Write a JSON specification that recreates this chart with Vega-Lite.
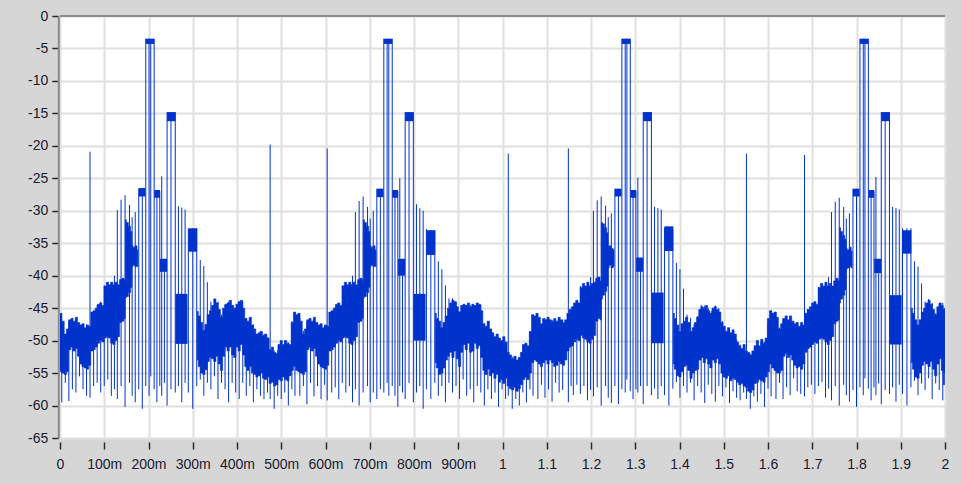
{
"$schema":"https://vega.github.io/schema/vega-lite/v6.json",
"width":885,"height":422,
"autosize":{"type":"none"},
"padding":{"left":60,"top":16,"right":17,"bottom":46},
"background":"#d6d6d6",
"resolve":{"axis":{"x":"independent","y":"independent"}},
"config":{"view":{"fill":"#ffffff","stroke":null},
"axis":{"labelFont":"Liberation Sans","labelFontSize":14,"labelColor":"#1a1a2e","gridColor":"#e0e0e0","gridWidth":2,"tickColor":"#2a2a2a","tickWidth":1.5,"labelFlush":false,"labelOverlap":false,"title":null}},
"datasets":{
"band":[
{"s":0,"t":0.000,"h":-45.9,"l":-54.6},{"s":0,"t":0.002,"h":-45.8,"l":-54.8},{"s":0,"t":0.007,"h":-47.0,"l":-55.0},{"s":0,"t":0.012,"h":-49.0,"l":-55.2},{"s":0,"t":0.017,"h":-48.2,"l":-54.8},{"s":0,"t":0.022,"h":-46.8,"l":-51.4},{"s":0,"t":0.027,"h":-46.6,"l":-51.0},{"s":0,"t":0.032,"h":-47.0,"l":-51.6},{"s":0,"t":0.037,"h":-46.4,"l":-51.2},{"s":0,"t":0.042,"h":-47.2,"l":-52.4},{"s":0,"t":0.047,"h":-47.6,"l":-53.6},{"s":0,"t":0.052,"h":-47.4,"l":-54.0},{"s":0,"t":0.057,"h":-48.0,"l":-54.2},{"s":0,"t":0.062,"h":-47.6,"l":-54.4},{"s":0,"t":0.067,"h":-47.8,"l":-53.8},{"s":0,"t":0.072,"h":-45.6,"l":-51.6},{"s":0,"t":0.077,"h":-45.4,"l":-51.4},{"s":0,"t":0.082,"h":-45.0,"l":-51.0},{"s":0,"t":0.087,"h":-44.4,"l":-50.4},{"s":0,"t":0.092,"h":-44.2,"l":-50.0},{"s":0,"t":0.097,"h":-44.6,"l":-50.2},{"s":0,"t":0.102,"h":-41.6,"l":-49.6},{"s":0,"t":0.107,"h":-41.0,"l":-49.4},{"s":0,"t":0.112,"h":-41.4,"l":-49.6},{"s":0,"t":0.117,"h":-41.0,"l":-50.4},{"s":0,"t":0.122,"h":-41.4,"l":-50.6},{"s":0,"t":0.127,"h":-41.0,"l":-50.0},{"s":0,"t":0.132,"h":-41.4,"l":-49.4},{"s":0,"t":0.137,"h":-40.6,"l":-47.2},{"s":0,"t":0.142,"h":-40.4,"l":-47.0},{"s":0,"t":0.147,"h":-40.6,"l":-46.6},{"s":0,"t":0.148,"h":-31.4,"l":-43.4},{"s":0,"t":0.152,"h":-31.8,"l":-43.2},{"s":0,"t":0.157,"h":-32.4,"l":-42.6},{"s":0,"t":0.162,"h":-33.2,"l":-41.8},{"s":0,"t":0.163,"h":-35.4,"l":-38.6},{"s":0,"t":0.167,"h":-35.6,"l":-38.4},{"s":0,"t":0.172,"h":-35.4,"l":-38.6},{"s":0,"t":0.176,"h":-36.0,"l":-38.6},
{"s":1,"t":0.310,"h":-45.5,"l":-53.0},{"s":1,"t":0.315,"h":-46.2,"l":-54.0},{"s":1,"t":0.320,"h":-47.2,"l":-55.0},{"s":1,"t":0.325,"h":-48.4,"l":-55.2},{"s":1,"t":0.330,"h":-47.5,"l":-54.5},{"s":1,"t":0.335,"h":-46.0,"l":-53.2},{"s":1,"t":0.340,"h":-45.4,"l":-52.6},{"s":1,"t":0.345,"h":-44.6,"l":-52.8},{"s":1,"t":0.350,"h":-43.6,"l":-53.2},{"s":1,"t":0.355,"h":-44.2,"l":-52.4},{"s":1,"t":0.360,"h":-45.2,"l":-53.6},{"s":1,"t":0.365,"h":-46.4,"l":-54.6},{"s":1,"t":0.370,"h":-45.0,"l":-52.4},{"s":1,"t":0.375,"h":-44.4,"l":-51.0},{"s":1,"t":0.380,"h":-44.2,"l":-51.6},{"s":1,"t":0.385,"h":-43.8,"l":-51.0},{"s":1,"t":0.390,"h":-44.6,"l":-52.2},{"s":1,"t":0.395,"h":-45.0,"l":-52.6},{"s":1,"t":0.400,"h":-44.4,"l":-51.0},{"s":1,"t":0.405,"h":-44.0,"l":-51.6},{"s":1,"t":0.410,"h":-43.8,"l":-50.6},{"s":1,"t":0.415,"h":-45.0,"l":-52.2},{"s":1,"t":0.420,"h":-46.6,"l":-54.0},{"s":1,"t":0.425,"h":-47.0,"l":-54.6},{"s":1,"t":0.430,"h":-46.4,"l":-54.0},{"s":1,"t":0.435,"h":-47.6,"l":-55.0},{"s":1,"t":0.440,"h":-48.2,"l":-55.2},{"s":1,"t":0.445,"h":-49.0,"l":-55.6},{"s":1,"t":0.450,"h":-48.8,"l":-55.4},{"s":1,"t":0.455,"h":-48.6,"l":-55.0},{"s":1,"t":0.460,"h":-49.2,"l":-55.8},{"s":1,"t":0.465,"h":-49.0,"l":-56.0},{"s":1,"t":0.470,"h":-49.6,"l":-55.6},{"s":1,"t":0.475,"h":-51.4,"l":-56.6},{"s":1,"t":0.480,"h":-51.0,"l":-56.4},{"s":1,"t":0.485,"h":-51.8,"l":-57.0},{"s":1,"t":0.490,"h":-52.0,"l":-56.8},{"s":1,"t":0.495,"h":-50.6,"l":-56.0},{"s":1,"t":0.500,"h":-50.0,"l":-56.2},{"s":1,"t":0.505,"h":-50.6,"l":-55.6},{"s":1,"t":0.510,"h":-50.0,"l":-56.0},{"s":1,"t":0.515,"h":-50.4,"l":-56.2},{"s":1,"t":0.520,"h":-50.6,"l":-55.4},{"s":1,"t":0.525,"h":-47.2,"l":-54.6},{"s":1,"t":0.530,"h":-45.6,"l":-54.0},{"s":1,"t":0.535,"h":-46.0,"l":-54.6},{"s":1,"t":0.540,"h":-45.8,"l":-54.8},{"s":1,"t":0.545,"h":-47.0,"l":-55.0},{"s":1,"t":0.550,"h":-49.0,"l":-55.2},{"s":1,"t":0.555,"h":-48.2,"l":-54.8},{"s":1,"t":0.560,"h":-46.8,"l":-51.4},{"s":1,"t":0.565,"h":-46.6,"l":-51.0},{"s":1,"t":0.570,"h":-47.0,"l":-51.6},{"s":1,"t":0.575,"h":-46.4,"l":-51.2},{"s":1,"t":0.580,"h":-47.2,"l":-52.4},{"s":1,"t":0.585,"h":-47.6,"l":-53.6},{"s":1,"t":0.590,"h":-47.4,"l":-54.0},{"s":1,"t":0.595,"h":-48.0,"l":-54.2},{"s":1,"t":0.600,"h":-47.6,"l":-54.4},{"s":1,"t":0.605,"h":-47.8,"l":-53.8},{"s":1,"t":0.610,"h":-45.6,"l":-51.6},{"s":1,"t":0.615,"h":-45.4,"l":-51.4},{"s":1,"t":0.620,"h":-45.0,"l":-51.0},{"s":1,"t":0.625,"h":-44.4,"l":-50.4},{"s":1,"t":0.630,"h":-44.2,"l":-50.0},{"s":1,"t":0.635,"h":-44.6,"l":-50.2},{"s":1,"t":0.640,"h":-41.6,"l":-49.6},{"s":1,"t":0.645,"h":-41.0,"l":-49.4},{"s":1,"t":0.650,"h":-41.4,"l":-49.6},{"s":1,"t":0.655,"h":-41.0,"l":-50.4},{"s":1,"t":0.660,"h":-41.4,"l":-50.6},{"s":1,"t":0.665,"h":-41.0,"l":-50.0},{"s":1,"t":0.670,"h":-41.4,"l":-49.4},{"s":1,"t":0.675,"h":-40.6,"l":-47.2},{"s":1,"t":0.680,"h":-40.4,"l":-47.0},{"s":1,"t":0.685,"h":-40.6,"l":-46.6},{"s":1,"t":0.686,"h":-31.4,"l":-43.4},{"s":1,"t":0.690,"h":-31.8,"l":-43.2},{"s":1,"t":0.695,"h":-32.4,"l":-42.6},{"s":1,"t":0.700,"h":-33.2,"l":-41.8},{"s":1,"t":0.701,"h":-35.4,"l":-38.6},{"s":1,"t":0.705,"h":-35.6,"l":-38.4},{"s":1,"t":0.710,"h":-35.4,"l":-38.6},{"s":1,"t":0.714,"h":-36.0,"l":-38.6},
{"s":2,"t":0.848,"h":-45.8,"l":-53.4},{"s":2,"t":0.853,"h":-46.6,"l":-54.2},{"s":2,"t":0.858,"h":-47.0,"l":-55.2},{"s":2,"t":0.863,"h":-48.0,"l":-55.0},{"s":2,"t":0.868,"h":-47.2,"l":-54.2},{"s":2,"t":0.873,"h":-46.2,"l":-53.0},{"s":2,"t":0.878,"h":-45.0,"l":-52.4},{"s":2,"t":0.883,"h":-44.2,"l":-51.8},{"s":2,"t":0.888,"h":-43.8,"l":-52.6},{"s":2,"t":0.893,"h":-44.0,"l":-51.6},{"s":2,"t":0.898,"h":-44.8,"l":-52.8},{"s":2,"t":0.903,"h":-45.6,"l":-54.0},{"s":2,"t":0.908,"h":-44.6,"l":-51.8},{"s":2,"t":0.913,"h":-44.4,"l":-50.6},{"s":2,"t":0.918,"h":-44.6,"l":-51.4},{"s":2,"t":0.923,"h":-44.2,"l":-50.4},{"s":2,"t":0.928,"h":-44.8,"l":-51.8},{"s":2,"t":0.933,"h":-44.4,"l":-51.6},{"s":2,"t":0.938,"h":-44.6,"l":-50.4},{"s":2,"t":0.943,"h":-44.2,"l":-51.2},{"s":2,"t":0.948,"h":-44.4,"l":-50.8},{"s":2,"t":0.953,"h":-45.4,"l":-52.6},{"s":2,"t":0.958,"h":-47.4,"l":-54.6},{"s":2,"t":0.963,"h":-47.8,"l":-55.2},{"s":2,"t":0.968,"h":-47.0,"l":-54.4},{"s":2,"t":0.973,"h":-48.2,"l":-55.4},{"s":2,"t":0.978,"h":-48.8,"l":-55.0},{"s":2,"t":0.983,"h":-49.4,"l":-55.8},{"s":2,"t":0.988,"h":-49.0,"l":-55.2},{"s":2,"t":0.993,"h":-49.6,"l":-56.4},{"s":2,"t":0.998,"h":-50.0,"l":-56.0},{"s":2,"t":1.003,"h":-49.4,"l":-56.6},{"s":2,"t":1.008,"h":-50.2,"l":-55.8},{"s":2,"t":1.013,"h":-51.8,"l":-57.0},{"s":2,"t":1.018,"h":-52.2,"l":-57.4},{"s":2,"t":1.023,"h":-52.8,"l":-57.6},{"s":2,"t":1.028,"h":-52.4,"l":-57.2},{"s":2,"t":1.033,"h":-53.0,"l":-57.8},{"s":2,"t":1.038,"h":-52.6,"l":-57.4},{"s":2,"t":1.043,"h":-51.8,"l":-56.8},{"s":2,"t":1.048,"h":-50.6,"l":-56.0},{"s":2,"t":1.053,"h":-50.4,"l":-55.6},{"s":2,"t":1.058,"h":-50.8,"l":-56.0},{"s":2,"t":1.063,"h":-48.6,"l":-55.0},{"s":2,"t":1.068,"h":-46.0,"l":-53.4},{"s":2,"t":1.073,"h":-46.2,"l":-53.0},{"s":2,"t":1.078,"h":-45.8,"l":-53.2},{"s":2,"t":1.083,"h":-46.4,"l":-53.6},{"s":2,"t":1.088,"h":-47.4,"l":-54.0},{"s":2,"t":1.093,"h":-46.6,"l":-53.4},{"s":2,"t":1.098,"h":-46.8,"l":-53.0},{"s":2,"t":1.103,"h":-46.4,"l":-53.6},{"s":2,"t":1.108,"h":-46.8,"l":-53.0},{"s":2,"t":1.113,"h":-47.0,"l":-53.4},{"s":2,"t":1.118,"h":-46.6,"l":-54.0},{"s":2,"t":1.123,"h":-47.0,"l":-53.8},{"s":2,"t":1.128,"h":-46.4,"l":-53.2},{"s":2,"t":1.133,"h":-46.8,"l":-53.6},{"s":2,"t":1.138,"h":-47.2,"l":-53.8},{"s":2,"t":1.143,"h":-46.8,"l":-53.0},{"s":2,"t":1.148,"h":-45.8,"l":-51.6},{"s":2,"t":1.153,"h":-45.2,"l":-51.0},{"s":2,"t":1.158,"h":-44.8,"l":-50.8},{"s":2,"t":1.163,"h":-44.2,"l":-50.2},{"s":2,"t":1.168,"h":-43.8,"l":-49.8},{"s":2,"t":1.173,"h":-44.2,"l":-50.0},{"s":2,"t":1.178,"h":-41.8,"l":-49.2},{"s":2,"t":1.183,"h":-41.2,"l":-49.6},{"s":2,"t":1.188,"h":-41.6,"l":-49.8},{"s":2,"t":1.193,"h":-41.0,"l":-50.2},{"s":2,"t":1.198,"h":-41.6,"l":-50.4},{"s":2,"t":1.203,"h":-41.2,"l":-49.8},{"s":2,"t":1.208,"h":-41.0,"l":-49.2},{"s":2,"t":1.213,"h":-40.4,"l":-47.0},{"s":2,"t":1.218,"h":-40.2,"l":-46.6},{"s":2,"t":1.223,"h":-40.8,"l":-46.8},{"s":2,"t":1.224,"h":-31.8,"l":-43.6},{"s":2,"t":1.228,"h":-32.0,"l":-43.0},{"s":2,"t":1.233,"h":-32.6,"l":-42.4},{"s":2,"t":1.238,"h":-33.4,"l":-41.6},{"s":2,"t":1.239,"h":-35.6,"l":-38.8},{"s":2,"t":1.243,"h":-35.4,"l":-38.4},{"s":2,"t":1.248,"h":-35.8,"l":-38.8},{"s":2,"t":1.252,"h":-36.0,"l":-38.6},
{"s":3,"t":1.386,"h":-45.8,"l":-53.6},{"s":3,"t":1.391,"h":-46.6,"l":-54.4},{"s":3,"t":1.396,"h":-47.6,"l":-55.4},{"s":3,"t":1.401,"h":-48.6,"l":-55.6},{"s":3,"t":1.406,"h":-47.4,"l":-54.8},{"s":3,"t":1.411,"h":-47.0,"l":-54.0},{"s":3,"t":1.416,"h":-46.4,"l":-53.8},{"s":3,"t":1.421,"h":-47.2,"l":-54.6},{"s":3,"t":1.426,"h":-48.6,"l":-55.8},{"s":3,"t":1.431,"h":-48.0,"l":-55.0},{"s":3,"t":1.436,"h":-47.2,"l":-54.6},{"s":3,"t":1.441,"h":-46.4,"l":-54.4},{"s":3,"t":1.446,"h":-45.2,"l":-53.0},{"s":3,"t":1.451,"h":-44.8,"l":-52.6},{"s":3,"t":1.456,"h":-45.0,"l":-53.4},{"s":3,"t":1.461,"h":-44.6,"l":-52.8},{"s":3,"t":1.466,"h":-45.4,"l":-53.6},{"s":3,"t":1.471,"h":-45.8,"l":-54.2},{"s":3,"t":1.476,"h":-45.0,"l":-53.0},{"s":3,"t":1.481,"h":-44.8,"l":-53.4},{"s":3,"t":1.486,"h":-45.2,"l":-52.8},{"s":3,"t":1.491,"h":-45.6,"l":-53.6},{"s":3,"t":1.496,"h":-47.2,"l":-55.0},{"s":3,"t":1.501,"h":-47.8,"l":-55.6},{"s":3,"t":1.506,"h":-48.6,"l":-55.8},{"s":3,"t":1.511,"h":-48.0,"l":-55.4},{"s":3,"t":1.516,"h":-48.8,"l":-56.2},{"s":3,"t":1.521,"h":-48.4,"l":-55.8},{"s":3,"t":1.526,"h":-49.0,"l":-56.0},{"s":3,"t":1.531,"h":-50.2,"l":-56.4},{"s":3,"t":1.536,"h":-50.8,"l":-56.8},{"s":3,"t":1.541,"h":-51.2,"l":-56.6},{"s":3,"t":1.546,"h":-50.6,"l":-57.0},{"s":3,"t":1.551,"h":-51.6,"l":-57.2},{"s":3,"t":1.556,"h":-51.8,"l":-57.8},{"s":3,"t":1.561,"h":-52.2,"l":-58.0},{"s":3,"t":1.566,"h":-51.6,"l":-57.6},{"s":3,"t":1.571,"h":-50.8,"l":-56.6},{"s":3,"t":1.576,"h":-50.0,"l":-56.4},{"s":3,"t":1.581,"h":-50.8,"l":-56.0},{"s":3,"t":1.586,"h":-49.8,"l":-56.2},{"s":3,"t":1.591,"h":-50.4,"l":-56.4},{"s":3,"t":1.596,"h":-49.6,"l":-55.6},{"s":3,"t":1.601,"h":-46.6,"l":-54.8},{"s":3,"t":1.606,"h":-45.4,"l":-53.6},{"s":3,"t":1.611,"h":-45.8,"l":-54.2},{"s":3,"t":1.616,"h":-45.6,"l":-54.6},{"s":3,"t":1.621,"h":-46.4,"l":-55.0},{"s":3,"t":1.626,"h":-48.2,"l":-55.0},{"s":3,"t":1.631,"h":-47.4,"l":-54.6},{"s":3,"t":1.636,"h":-46.6,"l":-52.4},{"s":3,"t":1.641,"h":-46.2,"l":-52.0},{"s":3,"t":1.646,"h":-46.8,"l":-52.6},{"s":3,"t":1.651,"h":-46.2,"l":-52.2},{"s":3,"t":1.656,"h":-47.0,"l":-53.0},{"s":3,"t":1.661,"h":-47.4,"l":-53.8},{"s":3,"t":1.666,"h":-47.2,"l":-54.2},{"s":3,"t":1.671,"h":-47.8,"l":-54.0},{"s":3,"t":1.676,"h":-47.2,"l":-54.4},{"s":3,"t":1.681,"h":-47.6,"l":-53.6},{"s":3,"t":1.686,"h":-45.8,"l":-51.8},{"s":3,"t":1.691,"h":-45.2,"l":-51.2},{"s":3,"t":1.696,"h":-44.8,"l":-51.0},{"s":3,"t":1.701,"h":-44.2,"l":-50.6},{"s":3,"t":1.706,"h":-44.0,"l":-50.2},{"s":3,"t":1.711,"h":-44.4,"l":-50.4},{"s":3,"t":1.716,"h":-41.8,"l":-49.8},{"s":3,"t":1.721,"h":-41.2,"l":-49.6},{"s":3,"t":1.726,"h":-41.6,"l":-49.8},{"s":3,"t":1.731,"h":-41.0,"l":-50.2},{"s":3,"t":1.736,"h":-41.6,"l":-50.6},{"s":3,"t":1.741,"h":-41.2,"l":-50.0},{"s":3,"t":1.746,"h":-41.6,"l":-49.4},{"s":3,"t":1.751,"h":-40.8,"l":-47.4},{"s":3,"t":1.756,"h":-40.4,"l":-47.0},{"s":3,"t":1.761,"h":-40.8,"l":-46.8},{"s":3,"t":1.762,"h":-32.6,"l":-44.2},{"s":3,"t":1.766,"h":-33.2,"l":-43.6},{"s":3,"t":1.771,"h":-33.8,"l":-43.0},{"s":3,"t":1.776,"h":-34.4,"l":-42.2},{"s":3,"t":1.777,"h":-35.8,"l":-39.0},{"s":3,"t":1.781,"h":-36.0,"l":-38.8},{"s":3,"t":1.786,"h":-35.6,"l":-38.6},{"s":3,"t":1.790,"h":-36.2,"l":-38.8},
{"s":4,"t":1.924,"h":-45.0,"l":-53.4},{"s":4,"t":1.929,"h":-45.8,"l":-54.4},{"s":4,"t":1.934,"h":-46.8,"l":-55.6},{"s":4,"t":1.939,"h":-47.6,"l":-55.8},{"s":4,"t":1.944,"h":-46.8,"l":-55.0},{"s":4,"t":1.949,"h":-45.6,"l":-53.8},{"s":4,"t":1.954,"h":-45.0,"l":-53.2},{"s":4,"t":1.959,"h":-44.2,"l":-53.6},{"s":4,"t":1.964,"h":-43.8,"l":-54.0},{"s":4,"t":1.969,"h":-44.4,"l":-53.2},{"s":4,"t":1.974,"h":-45.2,"l":-54.4},{"s":4,"t":1.979,"h":-46.0,"l":-55.4},{"s":4,"t":1.984,"h":-44.8,"l":-53.6},{"s":4,"t":1.989,"h":-44.2,"l":-52.8},{"s":4,"t":1.994,"h":-44.6,"l":-54.6},{"s":4,"t":1.998,"h":-45.2,"l":-56.8},{"s":4,"t":2.000,"h":-45.0,"l":-55.0}
],
"blocks":[
{"a":0.178,"b":0.193,"h":-26.5,"l":-27.8},{"a":0.1938,"b":0.2128,"h":-3.5,"l":-4.3},{"a":0.213,"b":0.226,"h":-26.8,"l":-28.0},{"a":0.226,"b":0.242,"h":-37.4,"l":-39.4},{"a":0.242,"b":0.261,"h":-14.8,"l":-16.2},{"a":0.261,"b":0.288,"h":-42.8,"l":-50.5},{"a":0.290,"b":0.310,"h":-32.7,"l":-36.3},
{"a":0.716,"b":0.731,"h":-26.6,"l":-27.9},{"a":0.7318,"b":0.7508,"h":-3.5,"l":-4.3},{"a":0.751,"b":0.764,"h":-26.8,"l":-28.0},{"a":0.764,"b":0.780,"h":-37.4,"l":-40.0},{"a":0.780,"b":0.799,"h":-14.8,"l":-16.2},{"a":0.799,"b":0.826,"h":-42.8,"l":-50.0},{"a":0.828,"b":0.848,"h":-33.0,"l":-36.8},
{"a":1.254,"b":1.269,"h":-26.6,"l":-27.8},{"a":1.2698,"b":1.2888,"h":-3.5,"l":-4.3},{"a":1.289,"b":1.302,"h":-26.8,"l":-28.0},{"a":1.302,"b":1.318,"h":-37.2,"l":-39.4},{"a":1.318,"b":1.337,"h":-14.8,"l":-16.2},{"a":1.337,"b":1.364,"h":-42.6,"l":-50.4},{"a":1.366,"b":1.386,"h":-32.4,"l":-36.2},
{"a":1.792,"b":1.807,"h":-26.6,"l":-27.8},{"a":1.8078,"b":1.8268,"h":-3.5,"l":-4.3},{"a":1.827,"b":1.840,"h":-26.8,"l":-28.0},{"a":1.840,"b":1.856,"h":-37.4,"l":-39.6},{"a":1.856,"b":1.875,"h":-14.8,"l":-16.2},{"a":1.875,"b":1.902,"h":-43.0,"l":-50.6},{"a":1.904,"b":1.924,"h":-33.0,"l":-36.6}
],
"spikes":[
{"t":0.004,"h":-47,"l":-59.5},{"t":0.012,"h":-49,"l":-56.5},{"t":0.020,"h":-47,"l":-59.3},{"t":0.028,"h":-46.5,"l":-57.5},{"t":0.036,"h":-46.5,"l":-58},{"t":0.044,"h":-47.5,"l":-55.5},{"t":0.052,"h":-47.5,"l":-57.5},{"t":0.060,"h":-47.5,"l":-58.5},{"t":0.0678,"h":-20.9,"l":-58.8},{"t":0.076,"h":-45.5,"l":-57},{"t":0.084,"h":-44.5,"l":-56.5},{"t":0.092,"h":-44,"l":-58},{"t":0.100,"h":-41.5,"l":-57},{"t":0.108,"h":-41,"l":-56},{"t":0.116,"h":-41,"l":-58.5},{"t":0.123,"h":-40,"l":-57.5},{"t":0.1295,"h":-29.9,"l":-59},{"t":0.138,"h":-28.3,"l":-57},{"t":0.147,"h":-27.6,"l":-60.2},{"t":0.157,"h":-29.1,"l":-56.5},{"t":0.163,"h":-31,"l":-58.5},{"t":0.170,"h":-30.2,"l":-59.5},{"t":0.178,"h":-26.6,"l":-57.5},{"t":0.186,"h":-26.6,"l":-60.5},{"t":0.1938,"h":-3.5,"l":-57},{"t":0.2013,"h":-3.5,"l":-58.5},{"t":0.2051,"h":-3.5,"l":-55.5},{"t":0.2128,"h":-3.5,"l":-57.5},{"t":0.219,"h":-27,"l":-59.5},{"t":0.2255,"h":-27,"l":-57},{"t":0.2299,"h":-24.7,"l":-58.5},{"t":0.236,"h":-37.4,"l":-56.5},{"t":0.242,"h":-14.8,"l":-60},{"t":0.2508,"h":-14.8,"l":-57.5},{"t":0.2605,"h":-14.8,"l":-58},{"t":0.2676,"h":-29.3,"l":-57},{"t":0.2752,"h":-29.5,"l":-59.5},{"t":0.2827,"h":-29.8,"l":-56.5},{"t":0.290,"h":-32.7,"l":-58},{"t":0.300,"h":-32.7,"l":-60.5},{"t":0.309,"h":-32.7,"l":-57},{"t":0.317,"h":-37.6,"l":-56},{"t":0.325,"h":-38.5,"l":-58.5},{"t":0.333,"h":-41,"l":-56.5},{"t":0.341,"h":-44,"l":-57.5},{"t":0.349,"h":-43.5,"l":-55.5},{"t":0.357,"h":-44,"l":-59},{"t":0.365,"h":-46,"l":-56.5},{"t":0.373,"h":-44.5,"l":-57.5},{"t":0.381,"h":-44,"l":-59.5},{"t":0.389,"h":-44.5,"l":-56.5},{"t":0.397,"h":-45,"l":-58},{"t":0.405,"h":-44,"l":-59},{"t":0.413,"h":-44,"l":-56.5},{"t":0.421,"h":-46.5,"l":-58.5},{"t":0.429,"h":-46.5,"l":-57},{"t":0.437,"h":-47.5,"l":-59.5},{"t":0.445,"h":-49,"l":-57.5},{"t":0.453,"h":-48.5,"l":-58.5},{"t":0.461,"h":-49,"l":-59},{"t":0.469,"h":-49.5,"l":-58},{"t":0.4749,"h":-19.8,"l":-59},{"t":0.484,"h":-51.5,"l":-60.5},{"t":0.492,"h":-51.5,"l":-58.5},{"t":0.500,"h":-50,"l":-59},{"t":0.508,"h":-50,"l":-58},{"t":0.516,"h":-50.3,"l":-60},{"t":0.524,"h":-47,"l":-57.5},{"t":0.531,"h":-45.6,"l":-58.5},
{"t":0.542,"h":-46.5,"l":-58.5},{"t":0.550,"h":-48.5,"l":-57.0},{"t":0.558,"h":-47,"l":-59.8},{"t":0.566,"h":-46.5,"l":-56.5},{"t":0.574,"h":-46.8,"l":-58.6},{"t":0.582,"h":-47.2,"l":-57.0},{"t":0.590,"h":-47.5,"l":-59.0},{"t":0.598,"h":-47.6,"l":-56.8},{"t":0.6038,"h":-20.4,"l":-59.2},{"t":0.614,"h":-45.5,"l":-58.0},{"t":0.622,"h":-44.8,"l":-57.2},{"t":0.630,"h":-44.2,"l":-59.0},{"t":0.638,"h":-41.5,"l":-56.5},{"t":0.646,"h":-41,"l":-58.0},{"t":0.654,"h":-41,"l":-57.0},{"t":0.661,"h":-40,"l":-59.5},{"t":0.6675,"h":-30.2,"l":-57.5},{"t":0.676,"h":-28.5,"l":-60.0},{"t":0.685,"h":-27.8,"l":-58.0},{"t":0.695,"h":-29.4,"l":-57.0},{"t":0.701,"h":-31.2,"l":-59.5},{"t":0.708,"h":-30.0,"l":-58.0},{"t":0.716,"h":-26.6,"l":-59.0},{"t":0.724,"h":-26.6,"l":-57.5},{"t":0.7318,"h":-3.5,"l":-58.0},{"t":0.7393,"h":-3.5,"l":-56.5},{"t":0.7431,"h":-3.5,"l":-58.5},{"t":0.7508,"h":-3.5,"l":-57.0},{"t":0.757,"h":-27,"l":-58.5},{"t":0.7635,"h":-27,"l":-60.2},{"t":0.7679,"h":-25.0,"l":-57.0},{"t":0.774,"h":-37.4,"l":-58.0},{"t":0.780,"h":-14.8,"l":-59.0},{"t":0.7888,"h":-14.8,"l":-56.5},{"t":0.7985,"h":-14.8,"l":-59.5},{"t":0.8056,"h":-29.0,"l":-58.0},{"t":0.8132,"h":-29.6,"l":-57.0},{"t":0.8207,"h":-30.0,"l":-60.5},{"t":0.828,"h":-32.8,"l":-57.5},{"t":0.838,"h":-33.0,"l":-59.0},{"t":0.847,"h":-33.0,"l":-56.5},{"t":0.855,"h":-37.8,"l":-58.5},{"t":0.863,"h":-39.0,"l":-57.0},{"t":0.871,"h":-41.5,"l":-59.5},{"t":0.879,"h":-43.5,"l":-56.5},{"t":0.887,"h":-43.5,"l":-58.0},{"t":0.895,"h":-44,"l":-57.0},{"t":0.903,"h":-45.5,"l":-59.0},{"t":0.911,"h":-44.5,"l":-56.0},{"t":0.919,"h":-44.5,"l":-58.5},{"t":0.927,"h":-44.5,"l":-57.5},{"t":0.935,"h":-44.6,"l":-59.5},{"t":0.943,"h":-44.2,"l":-57.0},{"t":0.951,"h":-44.5,"l":-58.0},{"t":0.959,"h":-47.4,"l":-60.0},{"t":0.967,"h":-47,"l":-57.5},{"t":0.975,"h":-48.2,"l":-59.0},{"t":0.983,"h":-49.4,"l":-58.0},{"t":0.991,"h":-49.5,"l":-60.2},{"t":0.999,"h":-50,"l":-57.5},{"t":1.007,"h":-50.2,"l":-59.0},{"t":1.0131,"h":-21.2,"l":-58.5},{"t":1.022,"h":-52.5,"l":-60.5},{"t":1.030,"h":-52.5,"l":-59.0},{"t":1.038,"h":-52.6,"l":-60.0},{"t":1.046,"h":-50.6,"l":-58.0},{"t":1.054,"h":-50.4,"l":-59.5},{"t":1.062,"h":-48.6,"l":-57.5},{"t":1.069,"h":-46,"l":-58.5},
{"t":1.080,"h":-47.0,"l":-59.0},{"t":1.088,"h":-48.5,"l":-56.8},{"t":1.096,"h":-46.6,"l":-58.8},{"t":1.104,"h":-46.5,"l":-57.5},{"t":1.112,"h":-46.8,"l":-59.4},{"t":1.120,"h":-47.0,"l":-56.5},{"t":1.128,"h":-46.6,"l":-58.0},{"t":1.136,"h":-46.8,"l":-57.6},{"t":1.1488,"h":-20.4,"l":-59.5},{"t":1.155,"h":-45.2,"l":-57.0},{"t":1.160,"h":-44.8,"l":-58.4},{"t":1.168,"h":-44.0,"l":-56.8},{"t":1.176,"h":-41.6,"l":-58.2},{"t":1.184,"h":-41.2,"l":-57.0},{"t":1.192,"h":-41,"l":-59.2},{"t":1.199,"h":-40.2,"l":-57.6},{"t":1.2055,"h":-30.0,"l":-58.6},{"t":1.214,"h":-28.4,"l":-57.2},{"t":1.223,"h":-27.8,"l":-60.0},{"t":1.233,"h":-29.2,"l":-57.0},{"t":1.239,"h":-31.0,"l":-58.8},{"t":1.246,"h":-30.4,"l":-59.6},{"t":1.254,"h":-26.6,"l":-57.0},{"t":1.262,"h":-26.6,"l":-59.8},{"t":1.2698,"h":-3.5,"l":-57.5},{"t":1.2773,"h":-3.5,"l":-58.0},{"t":1.2811,"h":-3.5,"l":-56.0},{"t":1.2888,"h":-3.5,"l":-57.8},{"t":1.295,"h":-27,"l":-59.0},{"t":1.3015,"h":-27,"l":-57.5},{"t":1.3059,"h":-24.9,"l":-58.0},{"t":1.312,"h":-37.4,"l":-57.0},{"t":1.318,"h":-14.8,"l":-59.8},{"t":1.3268,"h":-14.8,"l":-57.0},{"t":1.3365,"h":-14.8,"l":-58.4},{"t":1.3436,"h":-29.4,"l":-57.4},{"t":1.3512,"h":-29.6,"l":-59.0},{"t":1.3587,"h":-29.8,"l":-57.0},{"t":1.366,"h":-32.6,"l":-58.4},{"t":1.376,"h":-32.8,"l":-60.0},{"t":1.385,"h":-32.8,"l":-57.4},{"t":1.393,"h":-38.0,"l":-56.4},{"t":1.401,"h":-39.0,"l":-58.8},{"t":1.409,"h":-42.0,"l":-57.0},{"t":1.417,"h":-46.0,"l":-58.0},{"t":1.425,"h":-46.5,"l":-56.5},{"t":1.433,"h":-47.5,"l":-59.2},{"t":1.441,"h":-46.2,"l":-57.0},{"t":1.449,"h":-44.5,"l":-58.0},{"t":1.457,"h":-44.6,"l":-59.6},{"t":1.465,"h":-45.0,"l":-56.8},{"t":1.473,"h":-45.4,"l":-58.2},{"t":1.481,"h":-44.6,"l":-59.4},{"t":1.489,"h":-45.0,"l":-57.0},{"t":1.497,"h":-47.0,"l":-58.6},{"t":1.505,"h":-48.4,"l":-57.2},{"t":1.513,"h":-48.2,"l":-59.6},{"t":1.521,"h":-48.2,"l":-57.8},{"t":1.529,"h":-49.8,"l":-58.8},{"t":1.537,"h":-50.6,"l":-59.2},{"t":1.545,"h":-50.8,"l":-58.0},{"t":1.5513,"h":-21.2,"l":-59.0},{"t":1.560,"h":-52.0,"l":-60.5},{"t":1.568,"h":-51.6,"l":-58.6},{"t":1.576,"h":-50.0,"l":-59.4},{"t":1.584,"h":-50.2,"l":-58.2},{"t":1.592,"h":-50.2,"l":-60.2},{"t":1.600,"h":-47.6,"l":-57.4},{"t":1.607,"h":-45.4,"l":-58.6},
{"t":1.618,"h":-45.6,"l":-59.0},{"t":1.626,"h":-48.0,"l":-56.5},{"t":1.634,"h":-46.6,"l":-59.0},{"t":1.642,"h":-46.2,"l":-57.2},{"t":1.650,"h":-46.2,"l":-58.4},{"t":1.658,"h":-47.0,"l":-55.8},{"t":1.666,"h":-47.2,"l":-57.8},{"t":1.674,"h":-47.6,"l":-58.2},{"t":1.6825,"h":-21.4,"l":-58.6},{"t":1.690,"h":-45.2,"l":-57.2},{"t":1.698,"h":-44.8,"l":-56.8},{"t":1.706,"h":-44.0,"l":-58.2},{"t":1.714,"h":-41.8,"l":-57.0},{"t":1.722,"h":-41.2,"l":-56.4},{"t":1.730,"h":-41.0,"l":-58.8},{"t":1.737,"h":-40.2,"l":-57.4},{"t":1.7435,"h":-30.2,"l":-59.2},{"t":1.752,"h":-28.6,"l":-57.0},{"t":1.761,"h":-28.0,"l":-60.0},{"t":1.771,"h":-29.4,"l":-56.8},{"t":1.777,"h":-31.2,"l":-58.4},{"t":1.784,"h":-30.4,"l":-59.4},{"t":1.792,"h":-26.6,"l":-57.6},{"t":1.800,"h":-26.6,"l":-60.2},{"t":1.8078,"h":-3.5,"l":-57.2},{"t":1.8153,"h":-3.5,"l":-58.4},{"t":1.8191,"h":-3.5,"l":-55.8},{"t":1.8268,"h":-3.5,"l":-57.4},{"t":1.833,"h":-27,"l":-59.2},{"t":1.8395,"h":-27,"l":-57.2},{"t":1.8439,"h":-24.8,"l":-58.4},{"t":1.850,"h":-37.4,"l":-56.6},{"t":1.856,"h":-14.8,"l":-59.8},{"t":1.8648,"h":-14.8,"l":-57.6},{"t":1.8745,"h":-14.8,"l":-58.2},{"t":1.8816,"h":-29.4,"l":-57.2},{"t":1.8892,"h":-29.6,"l":-59.4},{"t":1.8967,"h":-29.8,"l":-56.8},{"t":1.904,"h":-32.7,"l":-58.2},{"t":1.914,"h":-32.7,"l":-60.0},{"t":1.923,"h":-32.7,"l":-57.2},{"t":1.931,"h":-37.8,"l":-56.2},{"t":1.939,"h":-38.6,"l":-58.4},{"t":1.947,"h":-41.2,"l":-56.6},{"t":1.955,"h":-44.0,"l":-57.6},{"t":1.963,"h":-43.6,"l":-55.8},{"t":1.971,"h":-44.2,"l":-59.0},{"t":1.979,"h":-45.8,"l":-56.6},{"t":1.987,"h":-44.4,"l":-57.6},{"t":1.995,"h":-44.2,"l":-59.2}
]
},
"layer":[
{"data":{"name":"band"},
 "mark":{"type":"area","color":"#0033cc","stroke":"#0033cc","strokeWidth":0.6,"interpolate":"step","clip":true},
 "encoding":{
  "x":{"field":"t","type":"quantitative","scale":{"domain":[0,2],"nice":false,"zero":false},
       "axis":{"values":[0,0.1,0.2,0.3,0.4,0.5,0.6,0.7,0.8,0.9,1,1.1,1.2,1.3,1.4,1.5,1.6,1.7,1.8,1.9,2],"domain":false,"offset":4,"tickSize":7,"labelPadding":8,"labelOverlap":false,"labelFlush":false,
       "labelExpr":"datum.value == 0 ? '0' : (datum.value < 0.95 ? format(datum.value * 1000, '.0f') + 'm' : format(datum.value, '.2~g'))"}},
  "y":{"field":"h","type":"quantitative","scale":{"domain":[-65,0],"nice":false,"zero":false},
       "axis":{"values":[0,-5,-10,-15,-20,-25,-30,-35,-40,-45,-50,-55,-60,-65],"domain":true,"domainColor":"#8a8a8a","domainWidth":2,"offset":1.7,"ticks":true,"tickSize":6.5,"tickWidth":1.5,"tickColor":"#2a2a2a","labelPadding":4,"labelOverlap":false,"labelFlush":false,
       "labelExpr":"datum.value == 0 ? '0' : '-' + format(abs(datum.value), 'd')"}},
  "y2":{"field":"l"},
  "detail":{"field":"s","type":"nominal"}
 }},
{"data":{"name":"blocks"},
 "mark":{"type":"rect","color":"#0033cc","clip":true},
 "encoding":{"x":{"field":"a","type":"quantitative","axis":null},"x2":{"field":"b"},"y":{"field":"h","type":"quantitative","axis":null},"y2":{"field":"l"}}},
{"data":{"name":"spikes"},
 "mark":{"type":"rule","color":"#0033cc","strokeWidth":1,"clip":true},
 "encoding":{"x":{"field":"t","type":"quantitative","axis":null},"y":{"field":"h","type":"quantitative","axis":null},"y2":{"field":"l"}}},
{"data":{"values":[{}]},
 "mark":{"type":"rule","color":"#8c8c8c","strokeWidth":2},
 "encoding":{"y":{"datum":0,"axis":null}}}
]
}
